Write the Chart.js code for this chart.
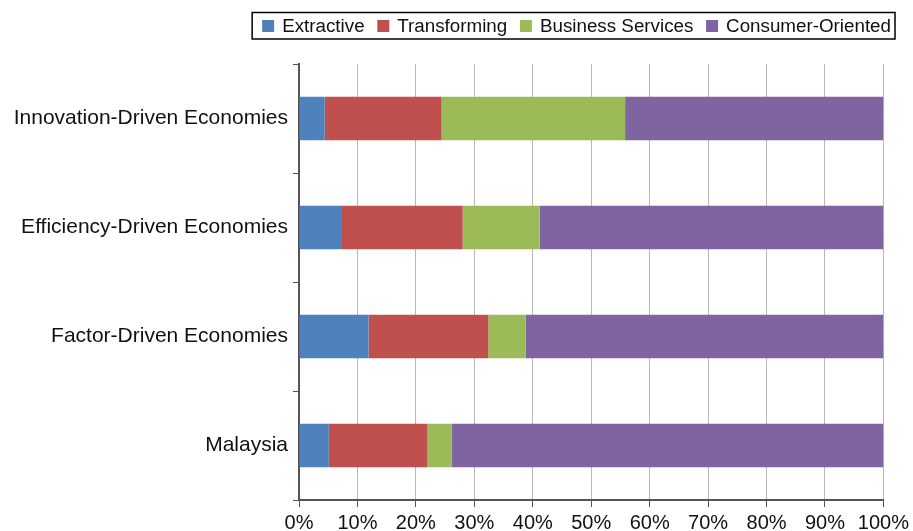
<!DOCTYPE html>
<html>
<head>
<meta charset="utf-8">
<script src="https://cdn.jsdelivr.net/npm/chart.js@4/dist/chart.umd.min.js"></script>
<style>
  html, body { margin: 0; padding: 0; background: #ffffff; }
  #wrap { width: 913px; height: 531px; }
</style>
</head>
<body>
<div id="wrap"><canvas id="chart" width="913" height="531"></canvas></div>
<script>
// Economic sector shares of early-stage business activity (% of total)
const categories = [
  'Innovation-Driven Economies',
  'Efficiency-Driven Economies',
  'Factor-Driven Economies',
  'Malaysia'
];
const seriesNames = ['Extractive', 'Transforming', 'Business Services', 'Consumer-Oriented'];
const extractive       = [4.4, 7.2, 11.9, 5.1];
const transforming     = [20.0, 20.8, 20.5, 16.9];
const businessServices = [31.4, 13.2, 6.4, 4.1];
const consumerOriented = [44.2, 58.8, 61.2, 73.9];
const xTickValues = [0, 10, 20, 30, 40, 50, 60, 70, 80, 90, 100];

const seriesColors = ['#4F81BD', '#C0504D', '#9BBB59', '#8064A2'];
const seriesValues = [extractive, transforming, businessServices, consumerOriented];

const FONT = "'Liberation Sans', Arial, sans-serif";

// Boxed legend in the top-right corner, built from the dataset labels/colours
const boxedLegend = {
  id: 'boxedLegend',
  afterDraw(chart) {
    const ctx = chart.ctx;
    const ds = chart.data.datasets;
    const sq = 12, gapText = 8, gapItem = 12.7;
    const right = 891, cy = 26;
    ctx.save();
    ctx.font = '18.8px ' + FONT;
    const widths = ds.map(d => ctx.measureText(d.label).width);
    let total = 0;
    widths.forEach((w, i) => { total += sq + gapText + w + (i < widths.length - 1 ? gapItem : 0); });
    let x = right - total;
    ctx.strokeStyle = '#000';
    ctx.lineWidth = 1.5;
    ctx.strokeRect(x - 10, 12.5, total + 14, 26.5);
    ctx.textBaseline = 'middle';
    ctx.textAlign = 'left';
    ds.forEach((d, i) => {
      ctx.fillStyle = d.backgroundColor;
      ctx.fillRect(x, cy - 6, sq, sq);
      ctx.fillStyle = '#111';
      ctx.fillText(d.label, x + sq + gapText, cy + 1);
      x += sq + gapText + widths[i] + gapItem;
    });
    ctx.restore();
  }
};

new Chart(document.getElementById('chart'), {
  type: 'bar',
  data: {
    labels: categories,
    datasets: seriesNames.map((name, i) => ({
      label: name,
      data: seriesValues[i],
      backgroundColor: seriesColors[i],
      borderWidth: 0,
      barPercentage: 0.4,
      categoryPercentage: 1.0
    }))
  },
  options: {
    indexAxis: 'y',
    responsive: false,
    animation: false,
    layout: { padding: { top: 64, right: 29, left: 0, bottom: 0 } },
    plugins: {
      legend: { display: false },
      tooltip: { enabled: false }
    },
    scales: {
      x: {
        stacked: true,
        min: 0,
        max: 100,
        afterBuildTicks(scale) { scale.ticks = xTickValues.map(v => ({ value: v })); },
        afterFit(scale) { scale.height = 31; },
        grid: { color: '#b8b8b8', lineWidth: 1, tickColor: '#555', tickLength: 7 },
        border: { color: '#555', width: 2 },
        ticks: {
          callback: v => v + '%',
          color: '#111',
          padding: 4,
          maxRotation: 0,
          autoSkip: false,
          font: { family: FONT, size: 20 }
        }
      },
      y: {
        stacked: true,
        afterFit(scale) { scale.width = 299; },
        grid: { drawOnChartArea: false, offset: true, tickColor: '#555', tickLength: 6, color: '#555' },
        border: { color: '#555', width: 2 },
        ticks: {
          color: '#111',
          padding: 5,
          font: { family: FONT, size: 21 }
        }
      }
    }
  },
  plugins: [boxedLegend]
});
</script>
</body>
</html>
